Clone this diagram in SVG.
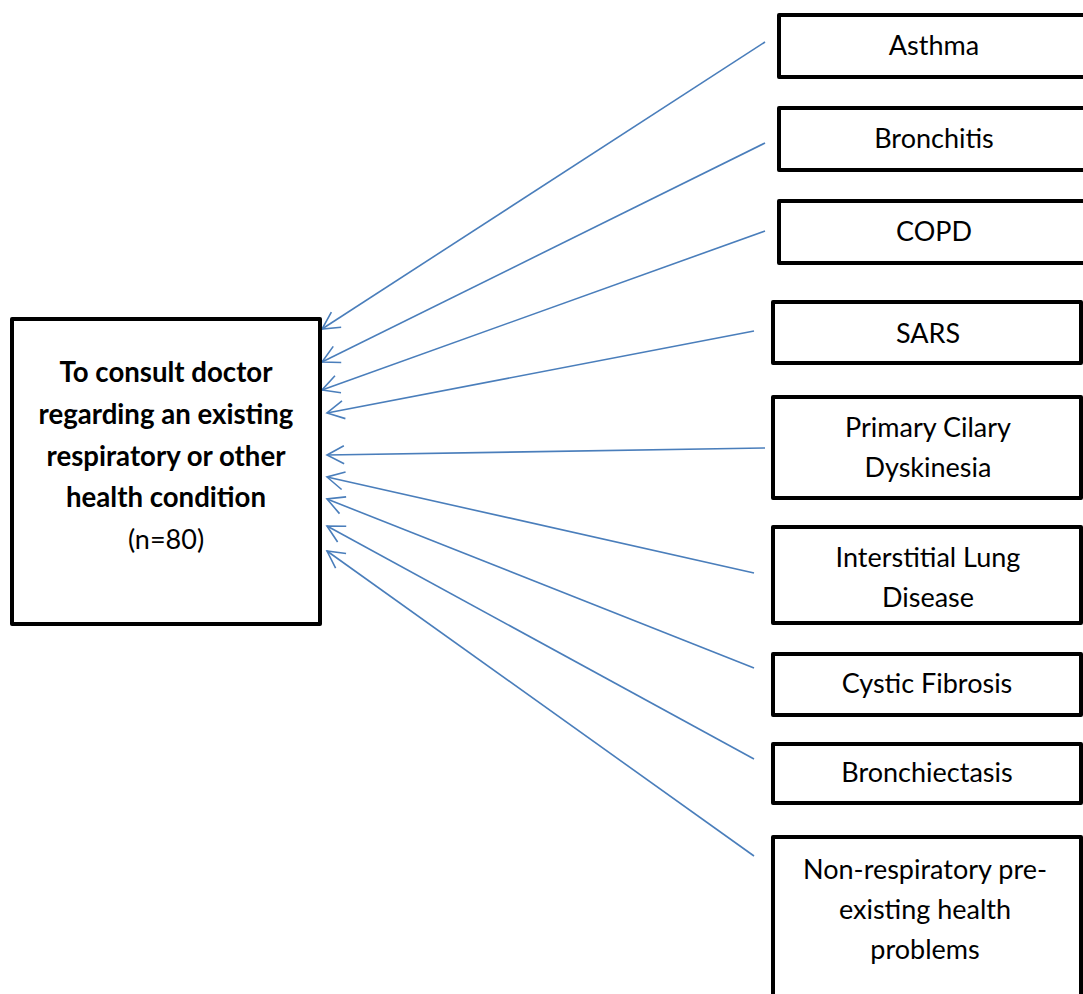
<svg xmlns="http://www.w3.org/2000/svg" width="1083" height="994" viewBox="0 0 1083 994">
<defs>
<style>
.box{fill:#fff;stroke:#000;stroke-width:4;stroke-linejoin:round}
.t{font-family:Lato,"Open Sans","Liberation Sans",sans-serif;font-size:27px;fill:#000;text-anchor:middle}
.b{font-weight:bold;font-size:27.6px}
.c{fill:none;stroke:#4a7ebb;stroke-width:1.6}
</style>
<marker id="arr" markerUnits="userSpaceOnUse" markerWidth="24" markerHeight="24" viewBox="-20 -12 24 24" refX="0" refY="0" orient="auto">
<path d="M-17,-9 L0,0 L-17,9" fill="none" stroke="#4a7ebb" stroke-width="1.6"/>
</marker>
</defs>
<rect width="1083" height="994" fill="#fff"/>
<g id="connectors">
<line class="c" x1="765" y1="42" x2="322" y2="329" marker-end="url(#arr)"/>
<line class="c" x1="765" y1="143" x2="322" y2="362" marker-end="url(#arr)"/>
<line class="c" x1="765" y1="231" x2="322" y2="390" marker-end="url(#arr)"/>
<line class="c" x1="754" y1="331" x2="327" y2="413" marker-end="url(#arr)"/>
<line class="c" x1="765" y1="448" x2="327" y2="455" marker-end="url(#arr)"/>
<line class="c" x1="754" y1="573" x2="327" y2="477" marker-end="url(#arr)"/>
<line class="c" x1="754" y1="668" x2="327" y2="499" marker-end="url(#arr)"/>
<line class="c" x1="754" y1="759" x2="327" y2="526" marker-end="url(#arr)"/>
<line class="c" x1="754" y1="856" x2="327" y2="551" marker-end="url(#arr)"/>
</g>
<g id="main">
<rect class="box" x="12" y="319" width="308" height="305"/>
<text class="t b" x="166" y="382">To consult doctor</text>
<text class="t b" x="166" y="424">regarding an existing</text>
<text class="t b" x="166" y="466">respiratory or other</text>
<text class="t b" x="166" y="507">health condition</text>
<text class="t" x="166" y="549">(n=80)</text>
</g>
<g id="asthma">
<rect class="box" x="779" y="15" width="310" height="62"/>
<text class="t" x="934" y="55">Asthma</text>
</g>
<g id="bronchitis">
<rect class="box" x="779" y="108" width="310" height="62"/>
<text class="t" x="934" y="148">Bronchitis</text>
</g>
<g id="copd">
<rect class="box" x="779" y="201" width="310" height="62"/>
<text class="t" x="934" y="241">COPD</text>
</g>
<g id="sars">
<rect class="box" x="773" y="302" width="308" height="61"/>
<text class="t" x="928" y="343">SARS</text>
</g>
<g id="pcd">
<rect class="box" x="773" y="397" width="308" height="101"/>
<text class="t" x="928" y="437">Primary Cilary</text>
<text class="t" x="928" y="477">Dyskinesia</text>
</g>
<g id="ild">
<rect class="box" x="773" y="527" width="308" height="96"/>
<text class="t" x="928" y="567">Interstitial Lung</text>
<text class="t" x="928" y="607">Disease</text>
</g>
<g id="cf">
<rect class="box" x="773" y="654" width="308" height="61"/>
<text class="t" x="927" y="693">Cystic Fibrosis</text>
</g>
<g id="bronchiectasis">
<rect class="box" x="773" y="744" width="308" height="59"/>
<text class="t" x="927" y="782">Bronchiectasis</text>
</g>
<g id="nonresp">
<rect class="box" x="773" y="837" width="308" height="200"/>
<text class="t" x="925" y="879">Non-respiratory pre-</text>
<text class="t" x="925" y="919">existing health</text>
<text class="t" x="925" y="959">problems</text>
</g>
</svg>
